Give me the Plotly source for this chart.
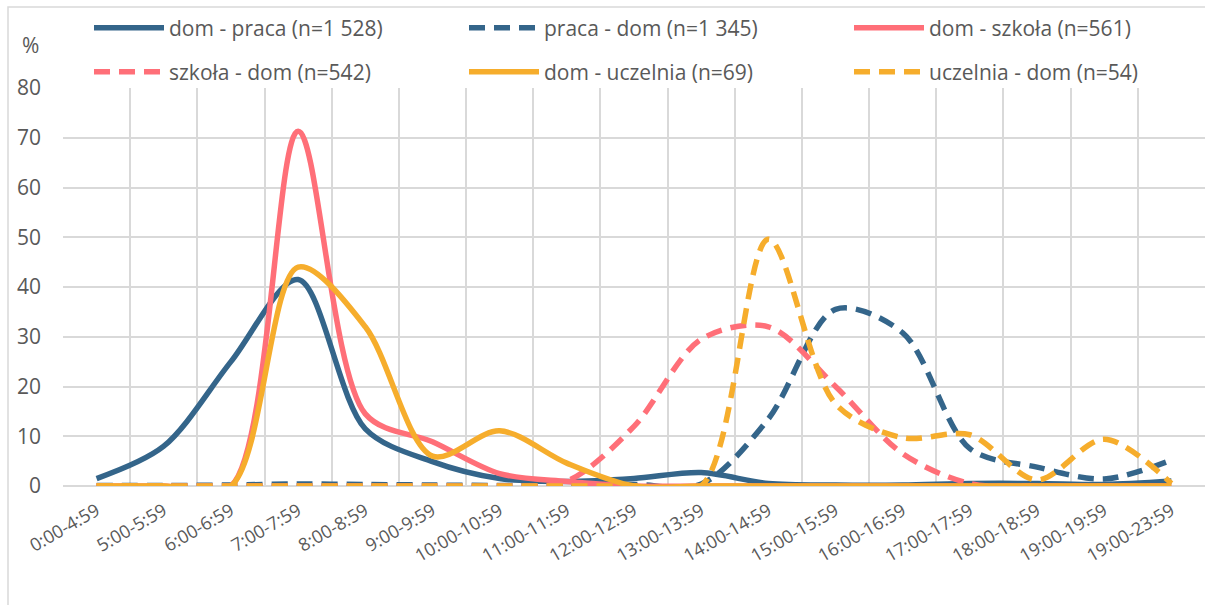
import plotly.graph_objects as go

categories = ["0:00-4:59", "5:00-5:59", "6:00-6:59", "7:00-7:59", "8:00-8:59",
              "9:00-9:59", "10:00-10:59", "11:00-11:59", "12:00-12:59",
              "13:00-13:59", "14:00-14:59", "15:00-15:59", "16:00-16:59",
              "17:00-17:59", "18:00-18:59", "19:00-19:59", "19:00-23:59"]

dom_praca     = [1.5, 8.0, 25.0, 41.5, 11.5, 4.9, 1.5, 0.9, 1.5, 2.7, 0.5, 0.2, 0.2, 0.5, 0.5, 0.3, 1.0]
praca_dom     = [0.1, 0.1, 0.2, 0.4, 0.3, 0.2, 0.1, 0.2, 0.3, 0.4, 13.5, 35.5, 30.8, 7.5, 3.8, 1.4, 5.2]
dom_szkola    = [0.0, 0.0, 0.0, 71.3, 14.5, 8.9, 2.5, 0.9, 0.0, 0.0, 0.0, 0.0, 0.0, 0.0, 0.0, 0.0, 0.0]
szkola_dom    = [0.0, 0.0, 0.0, 0.0, 0.0, 0.0, 0.0, 1.0, 12.0, 29.5, 32.0, 20.0, 6.5, 0.5, 0.0, 0.0, 0.0]
dom_uczelnia  = [0.0, 0.0, 0.0, 44.0, 32.0, 6.0, 11.1, 4.6, 0.0, 0.0, 0.0, 0.0, 0.0, 0.0, 0.0, 0.0, 0.0]
uczelnia_dom  = [0.0, 0.0, 0.0, 0.0, 0.0, 0.0, 0.0, 0.0, 0.0, 0.0, 49.6, 16.5, 9.7, 10.3, 1.2, 9.4, 0.5]

y_ticks = [0, 10, 20, 30, 40, 50, 60, 70, 80]

BLUE = "#34658A"
PINK = "#FF6F78"
ORANGE = "#F6AD2C"
TXT = "#595959"
GRID = "#D9D9D9"
FONT = "Open Sans"
FS = 21
XFS = 18
DASH = "16px,9px"

W, H = 1205, 605
L, R, T, B = 63, 0, 88, 119
pw, ph = W - L - R, H - T - B

def px_x(p):
    return (p - L) / pw

def px_y(p):
    return 1 - (p - T) / ph

# legend slot (line start x, row centre y) in pixels
series = [
    ("dom - praca (n=1 528)", dom_praca, BLUE, "solid", "legend", 95, 28),
    ("praca - dom (n=1 345)", praca_dom, BLUE, DASH, "legend2", 470, 28),
    ("dom - szkoła (n=561)", dom_szkola, PINK, "solid", "legend3", 855, 28),
    ("szkoła - dom (n=542)", szkola_dom, PINK, DASH, "legend4", 95, 72),
    ("dom - uczelnia (n=69)", dom_uczelnia, ORANGE, "solid", "legend5", 470, 72),
    ("uczelnia - dom (n=54)", uczelnia_dom, ORANGE, DASH, "legend6", 855, 72),
]

fig = go.Figure()
legends = {}
for name, vals, col, dash, lg, lx, ly in series:
    fig.add_trace(go.Scatter(
        x=categories, y=vals, name=name, mode="lines",
        line=dict(color=col, width=5.5, dash=dash, shape="spline", smoothing=0.9),
        legend=lg,
    ))
    legends[lg] = dict(
        x=px_x(lx - 6), y=px_y(ly), xanchor="left", yanchor="middle",
        orientation="h", font=dict(family=FONT, size=FS, color=TXT),
        itemwidth=70, bgcolor="rgba(0,0,0,0)",
    )

fig.update_layout(
    width=W, height=H,
    margin=dict(l=L, r=R, t=T, b=B, pad=0, autoexpand=False),
    paper_bgcolor="white", plot_bgcolor="white",
    font=dict(family=FONT, size=FS, color=TXT),
    showlegend=True,
    xaxis=dict(
        type="category", categoryorder="array", categoryarray=categories,
        range=[-0.5, len(categories) - 0.5], automargin=False,
        tickson="boundaries", showgrid=True, gridcolor=GRID, gridwidth=1.5,
        ticks="", tickangle=-30, showline=False, zeroline=False,
        tickfont=dict(family=FONT, size=XFS, color=TXT),
        ticklabelstandoff=10, ticklabelshift=0,
    ),
    yaxis=dict(
        range=[0, 80], tickvals=y_ticks, showgrid=True, gridcolor=GRID, gridwidth=1.5,
        zeroline=True, zerolinecolor=GRID, zerolinewidth=2, automargin=False,
        ticks="", showline=False,
        tickfont=dict(family=FONT, size=FS, color=TXT),
        ticklabelstandoff=21,
    ),
    shapes=[dict(type="rect", xref="paper", yref="paper",
                 x0=px_x(8), x1=px_x(1300), y0=px_y(700), y1=px_y(7),
                 line=dict(color=GRID, width=1.5), fillcolor="rgba(0,0,0,0)", layer="below")],
    annotations=[dict(text="%", xref="paper", yref="paper", x=px_x(30), y=px_y(45),
                      xanchor="center", yanchor="middle", showarrow=False,
                      font=dict(family=FONT, size=FS, color=TXT))],
    **legends,
)

fig.write_html(
    "out.html",
    config={"displayModeBar": False},
    post_script="document.body.style.margin='0';document.body.style.overflow='hidden';",
)
